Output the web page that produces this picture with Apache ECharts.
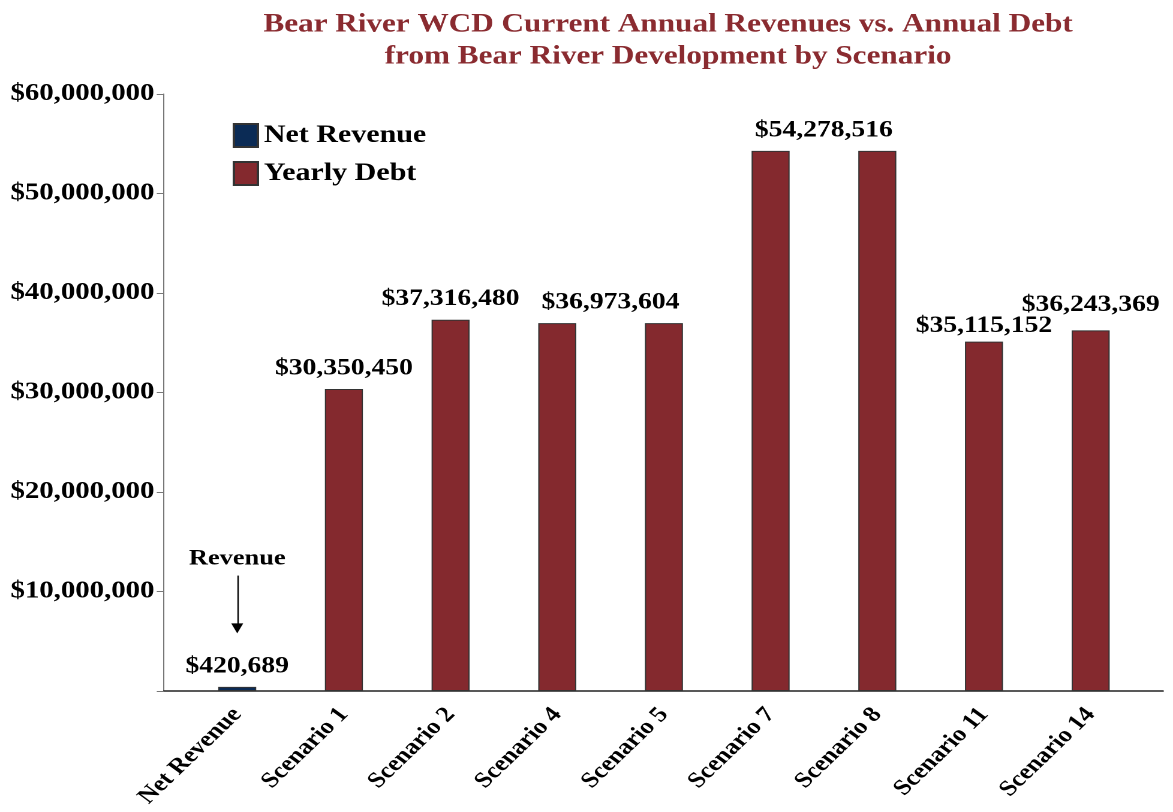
<!DOCTYPE html>
<html>
<head>
<meta charset="utf-8">
<script src="https://cdn.jsdelivr.net/npm/echarts@6/dist/echarts.min.js"></script>
<style>
html,body{margin:0;padding:0;background:#fff;overflow:hidden;width:1173px;height:812px;}
#wrap{width:978px;height:812px;transform:scaleX(1.19939);transform-origin:0 0;}
</style>
</head>
<body>
<div id="wrap"></div>
<script>
// ---- data ----
const categories = ['Net Revenue','Scenario 1','Scenario 2','Scenario 4','Scenario 5','Scenario 7','Scenario 8','Scenario 11','Scenario 14'];
const netRevenue = [420689, null, null, null, null, null, null, null, null];
const yearlyDebt = [null, 30350450, 37316480, 36973604, 36973604, 54278516, 54278516, 35115152, 36243369];
const yTicks = [0, 10000000, 20000000, 30000000, 40000000, 50000000, 60000000];
const titleLines = ['Bear River WCD Current Annual Revenues vs. Annual Debt', 'from Bear River Development by Scenario'];
const annotationText = 'Revenue';
const annotationFrom = 11600000;
const annotationTo = 6300000;

// ---- styling ----
const FONT = '"Liberation Serif", "Times New Roman", serif';
const RED = '#84292E';
const NAVY = '#0B2B55';
// labels shared by a pair of equal bars sit between the two bars
const hiddenLabels = {4: true, 6: true};
const labelOffsets = {3: [44.4, 0], 5: [44.4, 0], 7: [0, 5], 8: [0, -5]};
const money = v => '$' + Number(v).toLocaleString('en-US');

function buildData(arr) {
  return arr.map((v, i) => {
    if (v == null) return null;
    const item = {value: v};
    if (hiddenLabels[i]) item.label = {show: false};
    else if (labelOffsets[i]) item.label = {offset: labelOffsets[i]};
    return item;
  });
}

const barLabel = {
  show: true, position: 'top', distance: 9,
  fontFamily: FONT, fontWeight: 'bold', fontSize: 23, color: '#000',
  formatter: p => money(p.value)
};

const chart = echarts.init(document.getElementById('wrap'), null, {renderer: 'canvas', devicePixelRatio: 2});
const yMin = yTicks[0], yMax = yTicks[yTicks.length - 1], yStep = yTicks[1] - yTicks[0];

chart.setOption({
  animation: false,
  backgroundColor: '#fff',
  title: {
    text: titleLines.join('\n'),
    left: 552, top: 4, textAlign: 'center',
    textStyle: {fontFamily: FONT, fontWeight: 'bold', fontSize: 26, lineHeight: 32, color: '#8A2B30'}
  },
  legend: {
    orient: 'vertical', left: 189, top: 118, icon: 'rect',
    itemWidth: 20, itemHeight: 23, itemGap: 13,
    textStyle: {fontFamily: FONT, fontWeight: 'bold', fontSize: 25, color: '#000'},
    data: ['Net Revenue', 'Yearly Debt']
  },
  grid: [
    {left: 136.7, right: 8.3, top: 94, bottom: 121},
    {left: 153.3, right: 24.2, top: 94, bottom: 121}
  ],
  xAxis: [
    {gridIndex: 0, type: 'value', min: 0, max: 1,
     axisLine: {show: true, lineStyle: {color: '#222', width: 1.5}},
     axisTick: {show: false}, axisLabel: {show: false}, splitLine: {show: false}},
    {gridIndex: 1, type: 'category', data: categories,
     axisLine: {show: false}, axisTick: {show: false},
     axisLabel: {rotate: 49, margin: 20, interval: 0,
       fontFamily: FONT, fontWeight: 'bold', fontSize: 22, color: '#000'}}
  ],
  yAxis: [
    {gridIndex: 0, type: 'value', min: yMin, max: yMax, interval: yStep,
     axisLine: {show: true, lineStyle: {color: '#777', width: 1}},
     axisTick: {show: true, length: 6, lineStyle: {color: '#777'}},
     splitLine: {show: false},
     axisLabel: {margin: 8, fontFamily: FONT, fontWeight: 'bold', fontSize: 24, color: '#000',
       formatter: v => v === 0 ? '' : money(v)}},
    {gridIndex: 1, type: 'value', min: yMin, max: yMax, interval: yStep, show: false}
  ],
  series: [
    {
      name: 'Net Revenue', type: 'bar', xAxisIndex: 1, yAxisIndex: 1, stack: 'all',
      barWidth: 31.7,
      itemStyle: {color: NAVY, borderColor: '#333', borderWidth: 1},
      label: barLabel,
      data: buildData(netRevenue),
      markLine: {
        silent: true, symbol: ['none', 'triangle'], symbolSize: 10,
        lineStyle: {color: '#000', width: 1.2, type: 'solid'},
        label: {show: true, position: 'start', distance: 6, formatter: annotationText,
          fontFamily: FONT, fontWeight: 'bold', fontSize: 22, color: '#000'},
        data: [[{coord: [categories[0], annotationFrom]}, {coord: [categories[0], annotationTo]}]]
      }
    },
    {
      name: 'Yearly Debt', type: 'bar', xAxisIndex: 1, yAxisIndex: 1, stack: 'all',
      barWidth: 31.7,
      itemStyle: {color: RED, borderColor: '#333', borderWidth: 1},
      label: barLabel,
      data: buildData(yearlyDebt)
    }
  ]
});
</script>
</body>
</html>
